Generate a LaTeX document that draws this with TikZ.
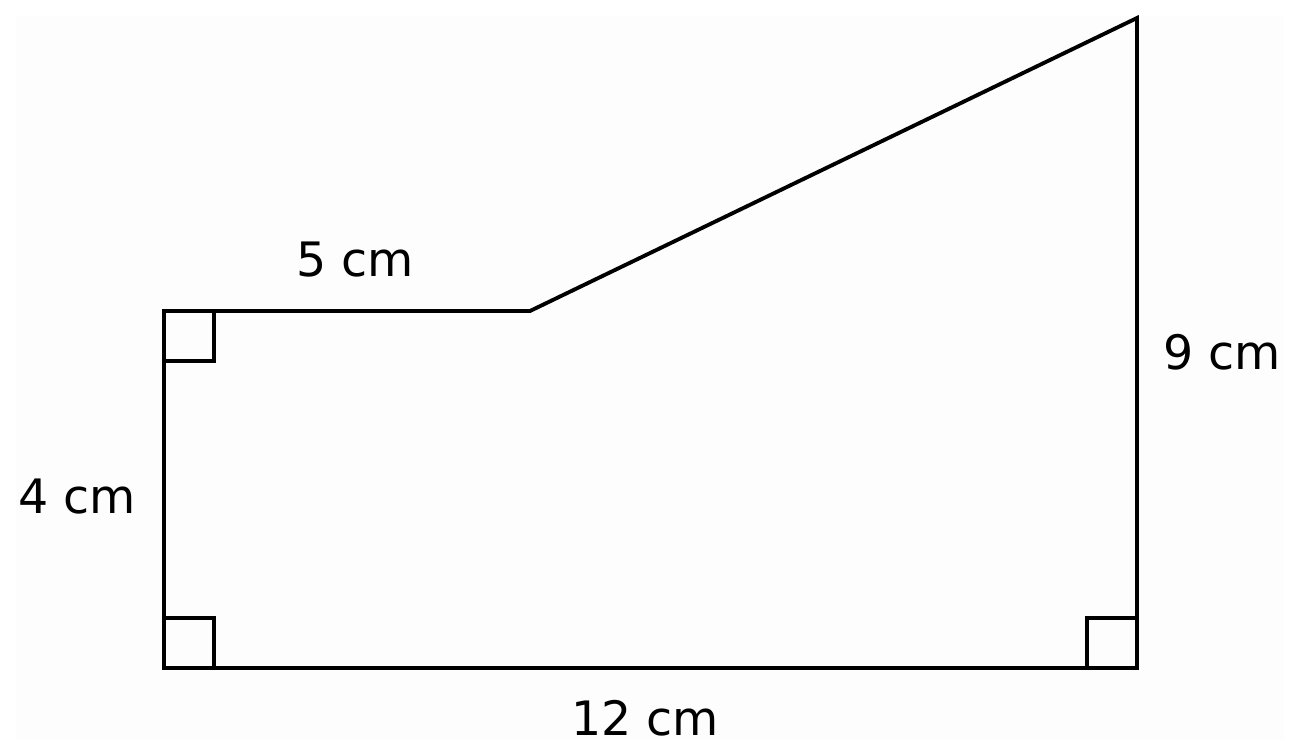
\documentclass[tikz,border=0pt]{standalone}
\usepackage{fontspec}
\setmainfont{DejaVu Sans}
\begin{document}
\begin{tikzpicture}[x=0.02cm,y=-0.02cm,
  edge/.style={line width=2.2pt,line join=miter},
  lbl/.style={font=\fontsize{27}{32}\selectfont,inner sep=0pt}]
\useasboundingbox (0,0) rectangle (1300,756);
\fill[white] (0,0) rectangle (1300,756);
\fill[black!0.7] (16,16) rectangle (1284,740);
\coordinate (BL) at (164,668);
\coordinate (TL) at (164,311);
\coordinate (S) at (530,311);
\coordinate (TR) at (1137,18);
\coordinate (BR) at (1137,668);
\draw[edge] (BL) -- (TL) -- (S) -- (TR) -- (BR) -- cycle;
\draw[edge] (TL) ++(0,50) -- ++(50,0) -- ++(0,-50);
\draw[edge] (BL) ++(0,-50) -- ++(50,0) -- ++(0,50);
\draw[edge] (BR) ++(0,-50) -- ++(-50,0) -- ++(0,50);
\node[lbl] (l5) at (355,260) {5 cm};
\node[lbl] (l9) at (1222,352) {9 cm};
\node[lbl] (l4) at (77,497) {4 cm};
\node[lbl] (l12) at (645,718) {12 cm};
\end{tikzpicture}
\end{document}
